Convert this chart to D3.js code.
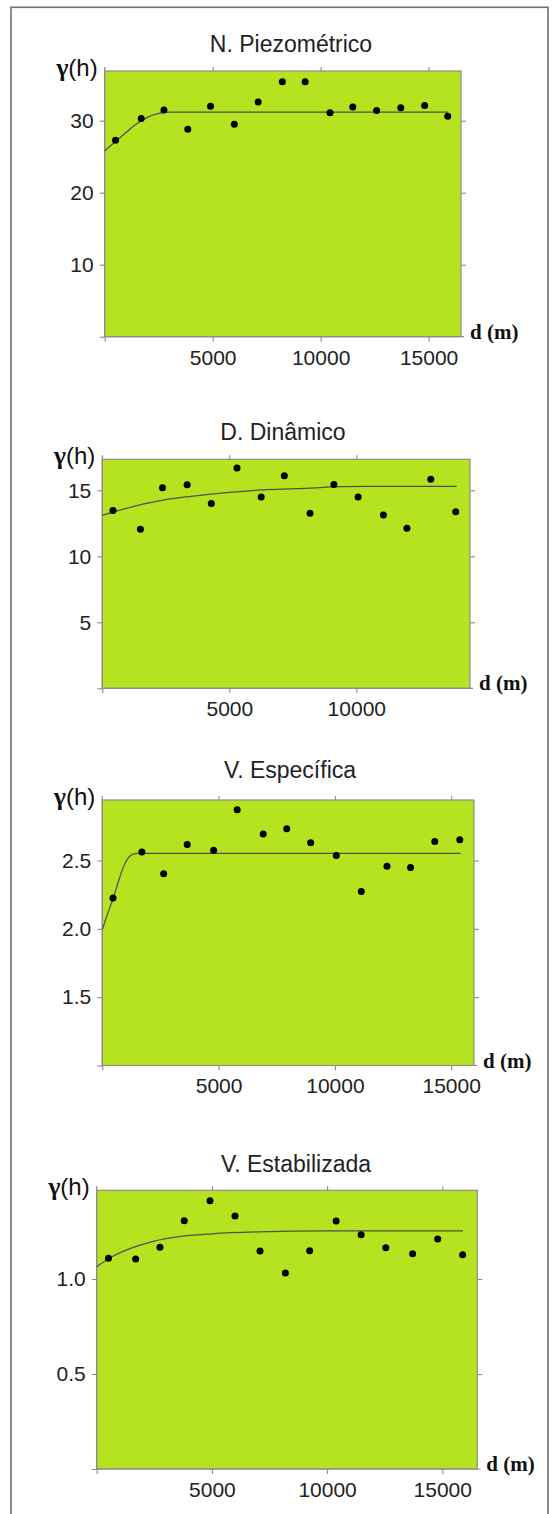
<!DOCTYPE html>
<html>
<head>
<meta charset="utf-8">
<script src="https://cdn.jsdelivr.net/npm/d3@7"></script>
<style>
  body { margin: 0; background: #fff; }
  svg { display: block; }
</style>
</head>
<body>
<svg id="chart"></svg>
<script>
// titles of the four semivariograms
const titles = ["N. Piezométrico", "D. Dinâmico", "V. Específica", "V. Estabilizada"];

// experimental points: lag distance (m) and semivariance
const piezoLag   = [502, 1689, 2742, 3846, 4900, 6003, 7107, 8227, 9281, 10435, 11488, 12592, 13712, 14816, 15886];
const piezoGamma = [27.3, 30.3, 31.5, 28.8, 32.0, 29.5, 32.6, 35.4, 35.4, 31.1, 31.9, 31.4, 31.8, 32.1, 30.6];

const dinLag   = [421, 1501, 2370, 3338, 4292, 5302, 6255, 7167, 8177, 9116, 10070, 11066, 11992, 12931, 13913];
const dinGamma = [13.48, 12.05, 15.2, 15.43, 14.0, 16.7, 14.5, 16.1, 13.26, 15.45, 14.5, 13.13, 12.12, 15.83, 13.38];

const espLag   = [460, 1702, 2638, 3650, 4785, 5798, 6917, 7929, 8957, 10061, 11135, 12239, 13252, 14294, 15368];
const espGamma = [2.225, 2.563, 2.403, 2.617, 2.575, 2.872, 2.695, 2.732, 2.63, 2.537, 2.274, 2.459, 2.449, 2.639, 2.652];

const estLag   = [512, 1691, 2745, 3800, 4917, 6003, 7089, 8190, 9245, 10393, 11478, 12549, 13712, 14798, 15884];
const estGamma = [1.109, 1.105, 1.167, 1.307, 1.412, 1.332, 1.147, 1.032, 1.149, 1.305, 1.233, 1.165, 1.133, 1.211, 1.128];

// fitted model curves
const piezoModelLag   = [0, 500, 1000, 1500, 2000, 2500, 3000, 15900];
const piezoModelGamma = [25.8, 27.1, 28.4, 29.6, 30.5, 31.0, 31.2, 31.2];

const dinModelLag   = [0, 800, 1600, 2500, 3500, 5000, 6500, 8000, 9500, 11000, 13950];
const dinModelGamma = [13.1, 13.55, 13.95, 14.3, 14.55, 14.85, 15.05, 15.15, 15.28, 15.3, 15.3];

const espModelLag   = [0, 230, 460, 700, 900, 1100, 1300, 1500, 15400];
const espModelGamma = [1.995, 2.11, 2.22, 2.35, 2.45, 2.515, 2.545, 2.553, 2.553];

const estModelLag   = [0, 700, 1500, 2500, 3500, 5000, 7000, 10000, 15900];
const estModelGamma = [1.065, 1.12, 1.163, 1.2, 1.222, 1.238, 1.248, 1.253, 1.253];

// axis domains and tick values
const xDomains = [[0, 16500], [0, 14475], [0, 15980], [0, 16520]];
const yDomains = [[0, 36.9], [0, 17.35], [1.0, 2.943], [0, 1.467]];
const xTickVals = [[5000, 10000, 15000], [5000, 10000], [5000, 10000, 15000], [5000, 10000, 15000]];
const yTickVals = [[10, 20, 30], [5, 10, 15], [1.5, 2.0, 2.5], [0.5, 1.0]];
const yTickFmt  = [",d", ",d", ".1f", ".1f"];

const lags   = [piezoLag, dinLag, espLag, estLag];
const gammas = [piezoGamma, dinGamma, espGamma, estGamma];
const modelLags   = [piezoModelLag, dinModelLag, espModelLag, estModelLag];
const modelGammas = [piezoModelGamma, dinModelGamma, espModelGamma, estModelGamma];

// layout of each plot box
const boxes = [
  {left: 104.7, right: 461,   top: 71,    bottom: 336.7,  titleX: 291, titleY: 52},
  {left: 102.3, right: 470,   top: 459.3, bottom: 688.3,  titleX: 283, titleY: 440},
  {left: 102.3, right: 474,   top: 800,   bottom: 1065.5, titleX: 290, titleY: 778},
  {left: 96.7,  right: 477.3, top: 1190.3,bottom: 1469,   titleX: 296, titleY: 1172}
];

const W = 558, H = 1514;
const green = "#b5e31f";
const axisGray = "#8c8c8c";
const sans = "'Liberation Sans', Arial, sans-serif";
const serif = "'Liberation Serif', 'Times New Roman', serif";

const svg = d3.select("#chart").attr("width", W).attr("height", H);

// outer frame
svg.append("rect")
  .attr("x", 11).attr("y", 7.3)
  .attr("width", 537).attr("height", 1530)
  .attr("fill", "none")
  .attr("stroke", "#707070")
  .attr("stroke-width", 1.6);

titles.forEach((title, i) => {
  const b = boxes[i];
  const xScale = d3.scaleLinear().domain(xDomains[i]).range([b.left, b.right]);
  const yScale = d3.scaleLinear().domain(yDomains[i]).range([b.bottom, b.top]);
  const g = svg.append("g");

  // plot background
  g.append("rect")
    .attr("x", b.left).attr("y", b.top)
    .attr("width", b.right - b.left).attr("height", b.bottom - b.top)
    .attr("fill", green)
    .attr("stroke", axisGray)
    .attr("stroke-width", 1.2);

  const xTicks = [xDomains[i][0]].concat(xTickVals[i]);
  const yTicks = [yDomains[i][0]].concat(yTickVals[i]);
  const fy = d3.format(yTickFmt[i]);

  const xAxisGen = d3.axisBottom(xScale).tickValues(xTicks)
    .tickFormat(d => d === xDomains[i][0] ? "" : d)
    .tickSize(5).tickPadding(8);
  const xAxis = g.append("g").attr("transform", `translate(0,${b.bottom})`).call(xAxisGen);

  const xTopGen = d3.axisTop(xScale).tickValues(xTickVals[i]).tickFormat("").tickSize(4);
  const xTop = g.append("g").attr("transform", `translate(0,${b.top})`).call(xTopGen);

  const yAxisGen = d3.axisLeft(yScale).tickValues(yTicks)
    .tickFormat(d => d === yDomains[i][0] ? "" : fy(d))
    .tickSize(5).tickPadding(6);
  const yAxis = g.append("g").attr("transform", `translate(${b.left},0)`).call(yAxisGen);

  const yRightGen = d3.axisRight(yScale).tickValues(yTickVals[i]).tickFormat("").tickSize(5);
  const yRight = g.append("g").attr("transform", `translate(${b.right},0)`).call(yRightGen);

  [xAxis, xTop, yAxis, yRight].forEach(ax => {
    ax.select(".domain").remove();
    ax.selectAll(".tick line").attr("stroke", axisGray).attr("stroke-width", 1.1);
    ax.selectAll("text")
      .attr("fill", "#222")
      .style("font-family", sans)
      .style("font-size", "21px");
  });

  // little overhang of the axis lines
  g.append("line")
    .attr("x1", b.left).attr("x2", b.left)
    .attr("y1", b.top - 4).attr("y2", b.bottom)
    .attr("stroke", axisGray).attr("stroke-width", 1.2);
  g.append("line")
    .attr("x1", b.left).attr("x2", b.right + 3)
    .attr("y1", b.bottom).attr("y2", b.bottom)
    .attr("stroke", axisGray).attr("stroke-width", 1.2);

  // model curve
  const model = modelLags[i].map((d, k) => [d, modelGammas[i][k]]);
  g.append("path")
    .datum(model)
    .attr("fill", "none")
    .attr("stroke", "#4f4f4f")
    .attr("stroke-width", 1.25)
    .attr("d", d3.line()
      .x(d => xScale(d[0]))
      .y(d => yScale(d[1]))
      .curve(d3.curveMonotoneX));

  // experimental points
  const pts = lags[i].map((d, k) => [d, gammas[i][k]]);
  g.append("g")
    .selectAll("circle")
    .data(pts)
    .enter()
    .append("circle")
    .attr("cx", d => xScale(d[0]))
    .attr("cy", d => yScale(d[1]))
    .attr("r", 3.5)
    .attr("fill", "#000");

  // title
  g.append("text")
    .text(title)
    .attr("x", b.titleX).attr("y", b.titleY)
    .attr("text-anchor", "middle")
    .attr("fill", "#222")
    .style("font-family", sans)
    .style("font-size", "23px");

  // gamma(h) label
  const yl = g.append("text")
    .attr("x", b.left - 7).attr("y", b.top + 5)
    .attr("text-anchor", "end")
    .attr("fill", "#111");
  yl.append("tspan").text("γ")
    .style("font-family", serif).style("font-weight", "bold").style("font-size", "26px");
  yl.append("tspan").text("(h)")
    .style("font-family", sans).style("font-size", "24px");

  // d (m) label
  g.append("text")
    .text("d (m)")
    .attr("x", b.right + 9).attr("y", b.bottom + 2)
    .attr("fill", "#111")
    .style("font-family", serif)
    .style("font-weight", "bold")
    .style("font-size", "21px");
});
</script>
</body>
</html>
